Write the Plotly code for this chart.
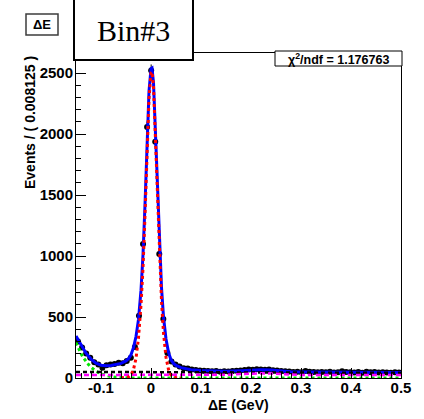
import numpy as np
import plotly.graph_objects as go

# binned data: 80 bins of width 0.008125 from -0.15 to 0.5
bin_lo = -0.15
bin_w = 0.008125
counts = [300, 250, 200, 165, 130, 110, 85, 105, 110, 115,
          125, 120, 140, 165, 254, 510, 1098, 2057, 2520, 1937,
          1016, 484, 205, 135, 110, 95, 80, 78, 70, 66,
          62, 60, 57, 55, 58, 52, 55, 54, 58, 60,
          62, 66, 70, 68, 72, 70, 68, 70, 64, 62,
          58, 55, 54, 50, 52, 48, 58, 52, 50, 48,
          50, 47, 52, 45, 48, 55, 50, 48, 46, 50,
          44, 52, 47, 49, 45, 48, 46, 44, 47, 45]

# total fit (blue)
tot_x = [-0.15, -0.14, -0.13, -0.12, -0.11, -0.10, -0.09, -0.08, -0.07, -0.06,
         -0.05, -0.045, -0.04, -0.035, -0.03, -0.025, -0.02, -0.016, -0.012, -0.008,
         -0.004, 0.0, 0.002, 0.005, 0.009, 0.013, 0.017, 0.021, 0.025, 0.03,
         0.035, 0.04, 0.045, 0.05, 0.06, 0.07, 0.08, 0.10, 0.12, 0.15,
         0.18, 0.20, 0.22, 0.24, 0.26, 0.28, 0.30, 0.35, 0.40, 0.45, 0.50]
tot_y = [345, 268, 203, 155, 122, 105, 100, 103, 110, 120,
         140, 158, 190, 250, 340, 480, 720, 1010, 1420, 1920,
         2350, 2535, 2540, 2420, 2020, 1530, 1080, 740, 500, 320,
         210, 150, 120, 103, 85, 75, 68, 62, 58, 56,
         60, 66, 68, 66, 58, 52, 50, 48, 47, 46, 45]

# signal component (red dotted)
sig_x = [-0.06, -0.05, -0.045, -0.04, -0.035, -0.03, -0.025, -0.02, -0.016, -0.012,
         -0.008, -0.004, 0.0, 0.002, 0.005, 0.009, 0.013, 0.017, 0.021, 0.025,
         0.03, 0.035, 0.04, 0.045, 0.05, 0.06]
sig_y = [0, 2, 8, 25, 70, 160, 330, 600, 900, 1330,
         1840, 2290, 2500, 2510, 2390, 1960, 1450, 980, 630, 370,
         170, 70, 25, 8, 2, 0]

# peaking background on the left (green dotted)
grn_x = [-0.15, -0.145, -0.14, -0.135, -0.13, -0.125, -0.12, -0.11, -0.10, -0.09,
         -0.08, -0.07, -0.06, -0.05, -0.04, 0.5]
grn_y = [290, 240, 200, 165, 135, 110, 88, 56, 34, 20,
         11, 6, 3, 1, 0, 0]

# combinatorial background (black dashed)
cmb_x = [-0.15, 0.5]
cmb_y = [50, 42]

# other background (magenta dashed)
mag_x = [-0.15, 0.10, 0.15, 0.18, 0.20, 0.22, 0.24, 0.26, 0.28, 0.30, 0.50]
mag_y = [25, 25, 27, 32, 37, 38, 36, 31, 27, 25, 24]

centers = [bin_lo + bin_w * (i + 0.5) for i in range(len(counts))]
errs = np.sqrt(counts)

fig = go.Figure()
fig.add_trace(go.Scatter(x=centers, y=counts, mode='markers',
                         marker=dict(color='black', size=6),
                         error_x=dict(type='constant', value=bin_w / 2, color='black',
                                      thickness=1, width=0),
                         error_y=dict(type='data', array=errs, color='black',
                                      thickness=1, width=0)))
fig.add_trace(go.Scatter(x=tot_x, y=tot_y, mode='lines',
                         line=dict(color='rgb(0,0,255)', width=3)))
fig.add_trace(go.Scatter(x=grn_x, y=grn_y, mode='lines',
                         line=dict(color='rgb(0,230,0)', width=3, dash='dot')))
fig.add_trace(go.Scatter(x=cmb_x, y=cmb_y, mode='lines',
                         line=dict(color='black', width=2.5, dash='4px,3px')))
fig.add_trace(go.Scatter(x=mag_x, y=mag_y, mode='lines',
                         line=dict(color='rgb(255,0,255)', width=2.5, dash='5px,3px')))
fig.add_trace(go.Scatter(x=sig_x, y=sig_y, mode='lines',
                         line=dict(color='rgb(255,0,0)', width=3, dash='dot')))

bold = dict(family='Liberation Sans', size=14, color='black', weight='bold')
tickf = dict(family='Liberation Sans', size=15, color='black', weight='bold')

fig.update_layout(
    width=424, height=419,
    margin=dict(l=76, r=23, t=53, b=41),
    paper_bgcolor='white', plot_bgcolor='white',
    showlegend=False,
    xaxis=dict(range=[-0.15, 0.5], tickvals=[-0.1, 0, 0.1, 0.2, 0.3, 0.4, 0.5],
               ticktext=['-0.1', '0', '0.1', '0.2', '0.3', '0.4', '0.5'],
               ticks='inside', ticklen=10, tickcolor='black', ticklabelstandoff=-4,
               minor=dict(dtick=0.02, tick0=0, ticks='inside', ticklen=5, tickcolor='black'),
               showline=True, linecolor='black', linewidth=1, mirror=True,
               showgrid=False, zeroline=False, tickfont=tickf),
    yaxis=dict(range=[0, 2664], tickvals=[0, 500, 1000, 1500, 2000, 2500],
               ticks='inside', ticklen=10, tickcolor='black', ticklabelstandoff=-1,
               minor=dict(dtick=100, tick0=0, ticks='inside', ticklen=5, tickcolor='black'),
               showline=True, linecolor='black', linewidth=1, mirror=True,
               showgrid=False, zeroline=False, tickfont=tickf),
)

# pixel -> paper helpers
def px(x):
    return (x - 76) / 325.0


def py(y):
    return (378 - y) / 325.0


fig.add_shape(type='rect', xref='paper', yref='paper',
              x0=px(74), x1=px(193), y0=py(60), y1=py(-2),
              line=dict(color='black', width=2), fillcolor='white')
fig.add_shape(type='rect', xref='paper', yref='paper',
              x0=px(26), x1=px(58), y0=py(35), y1=py(14),
              line=dict(color='rgb(60,60,60)', width=1.5), fillcolor='white')
fig.add_shape(type='rect', xref='paper', yref='paper',
              x0=px(275), x1=px(402), y0=py(66), y1=py(51),
              line=dict(color='black', width=1), fillcolor='white')

ann = dict(xref='paper', yref='paper', showarrow=False, xanchor='center', yanchor='middle')
fig.add_annotation(x=px(133.5), y=py(31), text='Bin#3',
                   font=dict(family='Liberation Serif', size=30, color='black'), **ann)
fig.add_annotation(x=px(42), y=py(24.5), text='ΔE',
                   font=dict(family='Liberation Sans', size=13, color='black', weight='bold'), **ann)
fig.add_annotation(x=px(338), y=py(58.5), text='χ<sup>2</sup>/ndf = 1.176763',
                   font=dict(family='Liberation Sans', size=12.5, color='black', weight='bold'), **ann)
fig.add_annotation(x=px(30), y=py(123), text='Events / ( 0.008125 )', textangle=-90,
                   font=bold, **ann)
fig.add_annotation(x=px(238), y=py(405), text='ΔE (GeV)', font=bold, **ann)

fig.write_html("out.html", config={'displayModeBar': False},
               post_script="document.body.style.margin='0';")
